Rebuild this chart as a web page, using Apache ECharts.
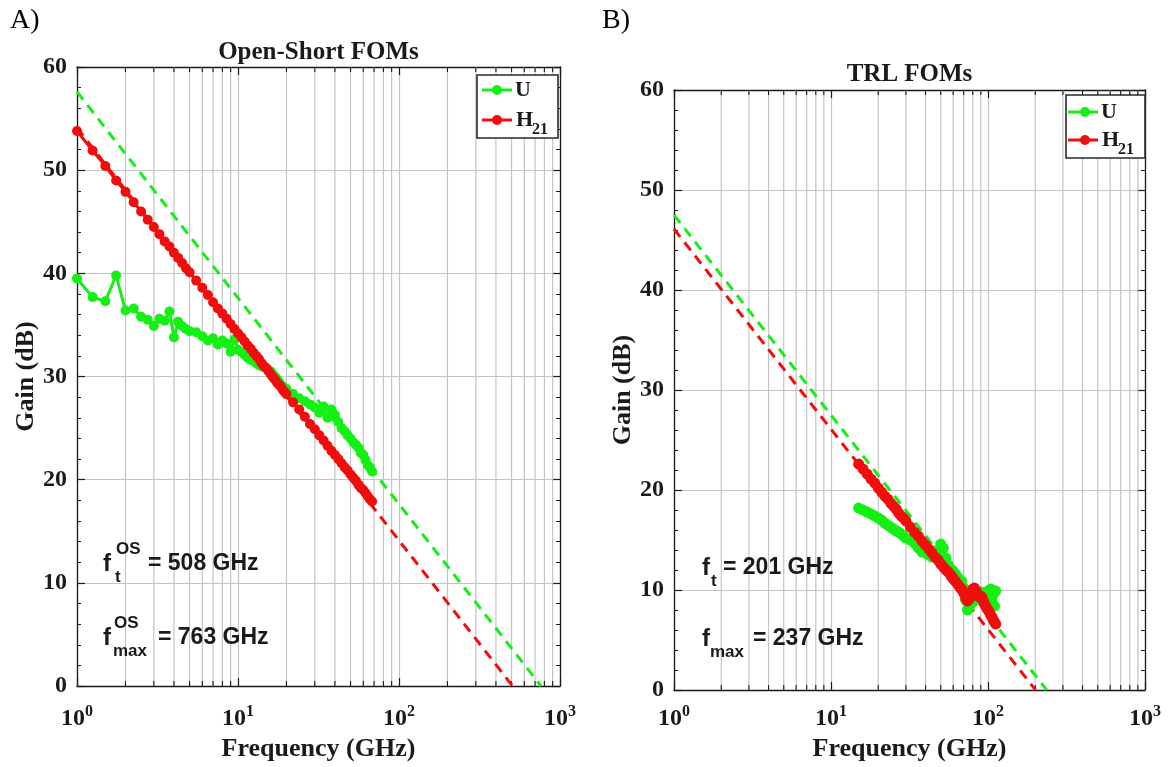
<!DOCTYPE html>
<html>
<head>
<meta charset="utf-8">
<title>Open-Short and TRL FOMs</title>
<script src="https://cdn.jsdelivr.net/npm/echarts@6/dist/echarts.min.js"></script>
<style>
  html, body { margin: 0; padding: 0; background: #ffffff; }
  #chart { width: 1174px; height: 767px; }
</style>
</head>
<body>
<div id="chart"></div>
<script>
// ---- measured data -------------------------------------------------------
// Open-Short de-embedded sweep (GHz) and gains (dB)
const OS_FREQ = [1, 1.25, 1.5, 1.75, 2, 2.25, 2.5, 2.75, 3, 3.25, 3.5, 3.75, 4, 4.25, 4.5, 4.75, 5,
  5.5, 6, 6.5, 7, 7.5, 8, 8.5, 9, 9.5, 10,
  10.5, 11, 11.5, 12, 12.5, 13, 13.5, 14, 14.5, 15, 15.5, 16, 16.5, 17, 17.5, 18, 18.5, 19, 19.5, 20,
  22, 24, 26, 28, 30, 32, 34, 36, 38, 40, 42, 44, 46, 48, 50, 52, 54, 56, 58, 60, 62, 64, 66, 68];
const OS_U = [39.5, 37.7, 37.3, 39.8, 36.4, 36.6, 35.8, 35.5, 34.9, 35.6, 35.4, 36.3, 33.8, 35.3, 34.9, 34.6, 34.4,
  34.3, 33.9, 33.5, 33.7, 33.1, 33.5, 33.2, 32.4, 33.6, 32.6,
  32.4, 32.1, 31.8, 31.6, 31.5, 31.3, 31.1, 31.0, 30.9, 30.8, 30.6, 30.5, 30.2, 30.0, 29.7, 29.5, 29.2, 29.0, 28.9, 28.8,
  28.3, 27.9, 27.6, 27.3, 27.0, 26.5, 27.1, 26.0, 26.8, 26.3, 25.6, 25.0, 24.7, 24.3, 24.0, 23.6, 23.4, 23.1, 22.6, 22.4, 21.9, 21.4, 21.2, 20.8];
const OS_H21 = [53.8, 51.9, 50.4, 49.0, 47.9, 46.9, 46.0, 45.2, 44.5, 43.8, 43.1, 42.6, 42.0, 41.5, 41.0, 40.5, 40.1,
  39.3, 38.6, 37.9, 37.2, 36.6, 36.1, 35.6, 35.1, 34.6, 34.2,
  33.8, 33.4, 33.0, 32.7, 32.3, 32.0, 31.7, 31.3, 31.0, 30.8, 30.5, 30.2, 29.9, 29.7, 29.4, 29.2, 29.0, 28.7, 28.5, 28.3,
  27.5, 26.8, 26.1, 25.4, 24.9, 24.3, 23.8, 23.3, 22.8, 22.4, 22.0, 21.6, 21.2, 20.9, 20.5, 20.2, 19.9, 19.5, 19.2, 19.0, 18.7, 18.4, 18.1, 17.9];

// TRL de-embedded sweep (GHz) and gains (dB)
const TRL_FREQ = [15, 16, 17, 18, 19, 20, 21, 22, 23, 24, 25, 26, 27, 28, 29, 30,
  32, 34, 36, 38, 40, 42, 44, 46, 48, 50, 52, 54, 56, 58, 60, 62, 64, 66, 68, 70,
  72, 74, 76, 78, 80, 82, 84, 86, 88, 90, 92, 94, 96, 98, 100, 102, 104, 106, 108, 110, 112];
const TRL_U = [18.2, 18.0, 17.8, 17.6, 17.4, 17.2, 17.0, 16.7, 16.5, 16.3, 16.1, 15.9, 15.8, 15.6, 15.4, 15.2,
  15.0, 14.7, 14.2, 13.8, 13.7, 13.5, 13.3, 13.4, 14.0, 14.6, 14.2, 13.2, 12.5, 12.1, 11.9, 11.6, 11.3, 11.0, 10.9, 10.2,
  9.0, 8.0, 8.3, 9.2, 8.8, 9.4, 9.6, 9.1, 9.5, 9.8, 9.4, 9.7, 9.5, 9.3, 9.9, 9.4, 10.1, 8.7, 9.6, 8.4, 9.9];
const TRL_H21 = [22.6, 22.1, 21.6, 21.1, 20.7, 20.2, 19.8, 19.4, 19.1, 18.7, 18.4, 18.1, 17.7, 17.4, 17.2, 16.9,
  16.3, 15.8, 15.4, 14.9, 14.5, 14.1, 13.7, 13.3, 13.0, 12.6, 12.3, 12.0, 11.8, 11.5, 11.2, 10.9, 10.6, 10.3, 10.1, 9.7,
  9.2, 8.9, 9.1, 9.7, 10.1, 10.2, 9.9, 9.5, 9.3, 9.4, 9.2, 8.8, 8.5, 8.2, 8.0, 7.8, 7.5, 7.3, 7.0, 6.8, 6.6];

// extracted figures of merit (GHz)
const OS_FT = 508, OS_FMAX = 763;
const TRL_FT = 201, TRL_FMAX = 237;

// -20 dB/decade extrapolations: [f, gain] at 1 GHz and at the unity-gain frequency
const OS_U_FIT = [[1, 57.6], [OS_FMAX, 0]];
const OS_H21_FIT = [[1, 54.1], [OS_FT, 0]];
const TRL_U_FIT = [[1, 47.5], [TRL_FMAX, 0]];
const TRL_H21_FIT = [[1, 46.1], [TRL_FT, 0]];

// axis ranges and the 2..9 sub-decade grid positions
const FREQ_MIN = 1, FREQ_MAX = 1000;
const GAIN_MIN = 0, GAIN_MAX = 60, GAIN_STEP = 10;
const LOG_MINOR = [2, 3, 4, 5, 6, 7, 8, 9, 20, 30, 40, 50, 60, 70, 80, 90, 200, 300, 400, 500, 600, 700, 800, 900];

// ---- styling -------------------------------------------------------------
const SERIF = '"Liberation Serif", "Times New Roman", serif';
const SANS = '"Liberation Sans", Arial, sans-serif';
const INK = '#1a1a1a';
const GRID = '#c4c4c4';
const GREEN = '#14f014';
const RED = '#f20d0d';

const PANELS = [
  { title: 'Open-Short FOMs', letter: 'A)', left: 77, top: 67, width: 483, height: 622,
    titleY: 53, labelMargin: 18, yNameGap: 37, xNameGap: 43, size: 10, width2: 3,
    freq: OS_FREQ, u: OS_U, h21: OS_H21, uFit: OS_U_FIT, hFit: OS_H21_FIT },
  { title: 'TRL FOMs', letter: 'B)', left: 674, top: 90, width: 471, height: 604,
    titleY: 75, labelMargin: 14, yNameGap: 33, xNameGap: 41, size: 11, width2: 4,
    freq: TRL_FREQ, u: TRL_U, h21: TRL_H21, uFit: TRL_U_FIT, hFit: TRL_H21_FIT }
];

const zip = (xs, ys) => xs.map((x, i) => [x, ys[i]]);

const grid = [], xAxis = [], yAxis = [], series = [], graphic = [];

PANELS.forEach((p, i) => {
  grid.push({ left: p.left, top: p.top, width: p.width, height: p.height });

  const boxLine = { show: true, onZero: false, lineStyle: { color: INK, width: 1.3 } };
  const tick = { show: true, inside: true, length: 8, lineStyle: { color: INK, width: 1.2 } };

  // bottom frequency axis (labelled) and a mirrored top axis closing the box
  xAxis.push({
    type: 'log', logBase: 10, gridIndex: i, min: FREQ_MIN, max: FREQ_MAX, position: 'bottom',
    axisLine: boxLine, axisTick: tick,
    splitLine: { show: true, lineStyle: { color: GRID, width: 1.2 } },
    axisLabel: {
      margin: p.labelMargin,
      formatter: v => '{b|10}{s|' + Math.round(Math.log10(v)) + '}',
      rich: {
        b: { fontFamily: SERIF, fontWeight: 'bold', fontSize: 24, color: INK, lineHeight: 30 },
        s: { fontFamily: SERIF, fontWeight: 'bold', fontSize: 16, color: INK, lineHeight: 13, verticalAlign: 'top' }
      }
    },
    name: 'Frequency (GHz)', nameLocation: 'middle', nameGap: p.xNameGap,
    nameTextStyle: { fontFamily: SERIF, fontWeight: 'bold', fontSize: 26, color: INK }
  });
  xAxis.push({
    type: 'log', logBase: 10, gridIndex: i, min: FREQ_MIN, max: FREQ_MAX, position: 'top',
    axisLine: boxLine, axisTick: tick, axisLabel: { show: false }, splitLine: { show: false }
  });

  const yCommon = {
    type: 'value', gridIndex: i, min: GAIN_MIN, max: GAIN_MAX, interval: GAIN_STEP,
    axisLine: boxLine, axisTick: tick,
    minorTick: { show: true, splitNumber: 5, length: 4, lineStyle: { color: INK, width: 1 } }
  };
  yAxis.push(Object.assign({}, yCommon, {
    position: 'left',
    splitLine: { show: true, lineStyle: { color: GRID, width: 1.2 } },
    axisLabel: { margin: 10, fontFamily: SERIF, fontWeight: 'bold', fontSize: 24, color: INK },
    name: 'Gain (dB)', nameLocation: 'middle', nameGap: p.yNameGap, nameRotate: 90,
    nameTextStyle: { fontFamily: SERIF, fontWeight: 'bold', fontSize: 26, color: INK }
  }));
  yAxis.push(Object.assign({}, yCommon, {
    position: 'right', splitLine: { show: false }, axisLabel: { show: false }
  }));

  const xi = 2 * i, yi = 2 * i;

  // sub-decade vertical grid lines with their inward ticks on both frame edges
  series.push({
    type: 'custom', xAxisIndex: xi, yAxisIndex: yi, silent: true, z: 1,
    data: LOG_MINOR.map(f => [f, GAIN_MIN]),
    renderItem: (params, api) => {
      const f = api.value(0);
      const lo = api.coord([f, GAIN_MIN]);
      const hi = api.coord([f, GAIN_MAX]);
      return {
        type: 'group',
        children: [
          { type: 'line', shape: { x1: lo[0], y1: lo[1], x2: hi[0], y2: hi[1] }, style: { stroke: GRID, lineWidth: 1.2 } },
          { type: 'line', shape: { x1: lo[0], y1: lo[1], x2: lo[0], y2: lo[1] - 5 }, style: { stroke: INK, lineWidth: 1.1 } },
          { type: 'line', shape: { x1: hi[0], y1: hi[1], x2: hi[0], y2: hi[1] + 5 }, style: { stroke: INK, lineWidth: 1.1 } }
        ]
      };
    }
  });

  const dash = (name, data, color) => ({
    type: 'line', name, xAxisIndex: xi, yAxisIndex: yi, data, symbol: 'none', z: 2, silent: true,
    lineStyle: { color, width: 3, type: [10, 7] }
  });
  series.push(dash('U fit', p.uFit, GREEN));
  series.push(dash('H21 fit', p.hFit, RED));

  const trace = (name, ys, color, z) => ({
    type: 'line', name, xAxisIndex: xi, yAxisIndex: yi, data: zip(p.freq, ys), z,
    symbol: 'circle', symbolSize: p.size, showSymbol: true,
    lineStyle: { color, width: p.width2 }, itemStyle: { color, borderWidth: 0 },
    emphasis: { disabled: true }
  });
  series.push(trace('U', p.u, GREEN, 3));
  series.push(trace('H21', p.h21, RED, 4));

  // panel letter and title
  graphic.push({ type: 'text', x: p.left - 67 + (i === 0 ? 0 : -5), y: 21, z: 100,
    style: { text: p.letter, fontFamily: SERIF, fontSize: 28, fill: '#000', align: 'left', verticalAlign: 'middle' } });
  graphic.push({ type: 'text', x: p.left + p.width / 2, y: p.titleY, z: 100,
    style: { text: p.title, fontFamily: SERIF, fontWeight: 'bold', fontSize: 25, fill: INK, align: 'center', verticalAlign: 'middle' } });
});

// ---- legends -------------------------------------------------------------
const LEGENDS = [
  { x: 477, y: 75, w: 81, h: 63, lx0: 482, lx1: 512, mx: 497, tx: 515, r1: 90, r2: 120 },
  { x: 1066, y: 95, w: 79, h: 63, lx0: 1068, lx1: 1098, mx: 1085, tx: 1101, r1: 112, r2: 140 }
];
LEGENDS.forEach(L => {
  graphic.push({ type: 'rect', z: 100, shape: { x: L.x, y: L.y, width: L.w, height: L.h },
    style: { fill: '#ffffff', stroke: '#2a2a2a', lineWidth: 1.6 } });
  [[L.r1, GREEN], [L.r2, RED]].forEach(([ry, c]) => {
    graphic.push({ type: 'line', z: 101, shape: { x1: L.lx0, y1: ry, x2: L.lx1, y2: ry }, style: { stroke: c, lineWidth: 3 } });
    graphic.push({ type: 'circle', z: 102, shape: { cx: L.mx, cy: ry, r: 5 }, style: { fill: c } });
  });
  graphic.push({ type: 'text', z: 102, x: L.tx, y: L.r1,
    style: { text: 'U', fontFamily: SERIF, fontWeight: 'bold', fontSize: 22, fill: INK, align: 'left', verticalAlign: 'middle' } });
  graphic.push({ type: 'text', z: 102, x: L.tx + 1, y: L.r2,
    style: { text: 'H', fontFamily: SERIF, fontWeight: 'bold', fontSize: 22, fill: INK, align: 'left', verticalAlign: 'middle' } });
  graphic.push({ type: 'text', z: 102, x: L.tx + 17, y: L.r2 + 10,
    style: { text: '21', fontFamily: SERIF, fontWeight: 'bold', fontSize: 16, fill: INK, align: 'left', verticalAlign: 'middle' } });
});

// ---- f_t / f_max annotations ---------------------------------------------
const NOTES = [
  { x: 103, y: 564, sup: 'OS', sub: 't', subX: 115, restX: 148, value: OS_FT },
  { x: 103, y: 638, sup: 'OS', sub: 'max', subX: 113, restX: 158, value: OS_FMAX },
  { x: 702, y: 568, sup: '', sub: 't', subX: 711, restX: 723, value: TRL_FT },
  { x: 702, y: 639, sup: '', sub: 'max', subX: 710, restX: 753, value: TRL_FMAX }
];
const noteText = (x, y, text, size) => ({
  type: 'text', z: 100, x, y,
  style: { text, fontFamily: SANS, fontWeight: 'bold', fontSize: size, fill: INK, align: 'left', verticalAlign: 'middle' }
});
NOTES.forEach(n => {
  graphic.push(noteText(n.x, n.y, 'f', 24));
  if (n.sup) graphic.push(noteText(n.subX + 1, n.y - 15, n.sup, 17));
  graphic.push(noteText(n.subX, n.y + 13, n.sub, 17));
  graphic.push(noteText(n.restX, n.y, '= ' + n.value + ' GHz', 23));
});

const chart = echarts.init(document.getElementById('chart'), null, { renderer: 'canvas' });
chart.setOption({
  backgroundColor: '#ffffff',
  animation: false,
  grid, xAxis, yAxis, series, graphic
});
</script>
</body>
</html>
